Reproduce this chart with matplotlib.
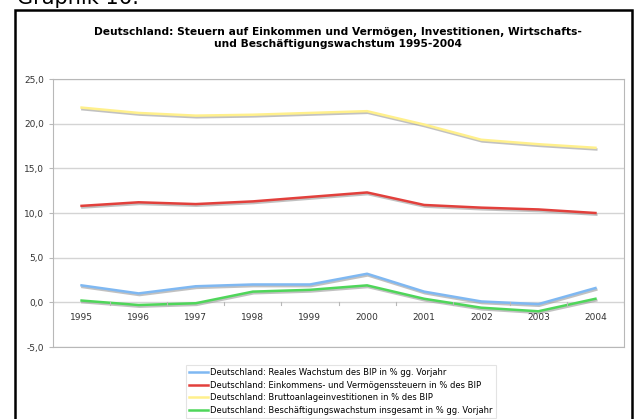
import matplotlib.pyplot as plt
import matplotlib.patheffects as pe
from matplotlib.patches import Rectangle
from matplotlib.ticker import FuncFormatter

# Daten
jahre = ['1995', '1996', '1997', '1998', '1999', '2000', '2001', '2002', '2003', '2004']
bip_wachstum = [1.9, 1.0, 1.8, 2.0, 2.0, 3.2, 1.2, 0.1, -0.2, 1.6]
steuern = [10.8, 11.2, 11.0, 11.3, 11.8, 12.3, 10.9, 10.6, 10.4, 10.0]
investitionen = [21.8, 21.2, 20.9, 21.0, 21.2, 21.4, 19.9, 18.2, 17.7, 17.3]
beschaeftigung = [0.2, -0.3, -0.1, 1.2, 1.4, 1.9, 0.4, -0.6, -1.0, 0.4]

labels = [
    'Deutschland: Reales Wachstum des BIP in % gg. Vorjahr',
    'Deutschland: Einkommens- und Vermögenssteuern in % des BIP',
    'Deutschland: Bruttoanlageinvestitionen in % des BIP',
    'Deutschland: Beschäftigungswachstum insgesamt in % gg. Vorjahr',
]
farben = ['#7fb8f2', '#e2403c', '#fff08c', '#4fd65a']

W, H = 634, 419
fig = plt.figure(figsize=(W / 100, H / 100), dpi=100)

# Rahmen und Überschrift
fig.patches.append(Rectangle((15 / W, -0.05), 617 / W, 1.05 - 10 / H,
                             transform=fig.transFigure, fill=False,
                             edgecolor='black', linewidth=1.8))
fig.text(17 / W, 1 - 4 / H, 'Graphik 16:', fontsize=15, ha='left',
         va='baseline', color='black')

fig.text(338 / W, 1 - 38 / H,
         'Deutschland: Steuern auf Einkommen und Vermögen, Investitionen, Wirtschafts-\n'
         'und Beschäftigungswachstum 1995-2004',
         ha='center', va='center', fontsize=7.7, fontweight='bold', linespacing=1.25)

ax = fig.add_axes([53 / W, 1 - 347 / H, 571 / W, 268 / H])
x = range(len(jahre))
shadow = [pe.SimpleLineShadow(offset=(0.6, -1.2), shadow_color='#999999', alpha=0.6),
          pe.Normal()]
for werte, farbe, lab in zip([bip_wachstum, steuern, investitionen, beschaeftigung],
                             farben, labels):
    ax.plot(x, werte, color=farbe, linewidth=1.8, label=lab, path_effects=shadow)

ax.set_xlim(-0.5, len(jahre) - 0.5)
ax.set_ylim(-5, 25)
ax.set_yticks([-5, 0, 5, 10, 15, 20, 25])
ax.yaxis.set_major_formatter(FuncFormatter(lambda v, p: f'{v:.1f}'.replace('.', ',')))
ax.grid(axis='y', color='#d4d4d4', linewidth=1)
ax.set_axisbelow(True)
for s in ax.spines.values():
    s.set_color('#b8b8b8')
ax.tick_params(axis='y', labelsize=6.5, colors='#333333', length=3, color='#b8b8b8')
ax.tick_params(axis='x', length=0)
ax.set_xticks([])

# x-Beschriftung an der Nulllinie
for i, j in enumerate(jahre):
    ax.text(i, -1.2, j, ha='center', va='top', fontsize=6.5, color='#333333')
for i in range(len(jahre) + 1):
    ax.plot([i - 0.5, i - 0.5], [0, -0.35], color='#b8b8b8', linewidth=0.8)

leg = fig.legend(loc='upper left', bbox_to_anchor=(182 / W, 1 - 361 / H),
                 fontsize=6.0, frameon=True, handlelength=2.3, handletextpad=0.25,
                 borderpad=0.35, labelspacing=0.42, fancybox=False)
leg.get_frame().set_edgecolor('#dddddd')
leg.get_frame().set_linewidth(0.8)
for line in leg.get_lines():
    line.set_path_effects([])

fig.savefig('out.png', dpi=100)
